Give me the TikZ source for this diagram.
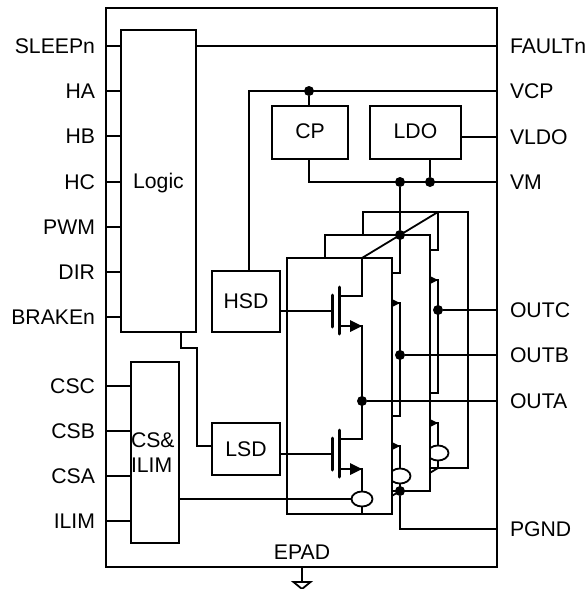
\documentclass[tikz,border=0pt]{standalone}
\usepackage{fontspec}
\setmainfont{Liberation Sans}
\usepackage{tikz}
\usetikzlibrary{shapes.geometric,calc}

% One half bridge on its own card, #1 = name, #2/#3 = offset
\newcommand{\halfbridge}[3]{%
  \begin{scope}[shift={(#2,#3)}]
    \node[panel] (panel#1) at (339.5,386) {};
    \draw[wire] (362,258) -- (362,296) -- (339,296);
    \draw[wire] (339,326) -- (362,326) -- (362,439) -- (339,439);
    \draw[wire] (339,469) -- (362,469) -- (362,514);
    \foreach \yy in {0,143} {
      \draw[gatebar] (332,295+\yy) -- (332,327+\yy);
      \draw[gatebar] (339,287+\yy) -- (339,334+\yy);
      \fill (350,320+\yy) -- (362,326+\yy) -- (350,332+\yy) -- cycle;
    }
    \node[sense] (sense#1) at (362,499) {};
    \coordinate (gatehi#1) at (332,311);
    \coordinate (gatelo#1) at (332,454);
    \coordinate (head#1) at (362,258);
    \coordinate (foot#1) at (362,514);
  \end{scope}}

\begin{document}
\begin{tikzpicture}[
  x=1pt,y=-1pt,
  wire/.style={line width=1.8pt},
  gatebar/.style={line width=3pt,line cap=round},
  box/.style={rectangle,draw,line width=1.8pt,fill=white,inner sep=0pt,outer sep=0pt,align=center,font=\fontsize{21.2}{25}\selectfont},
  pinlabel/.style={inner sep=0pt,outer sep=0pt,font=\fontsize{21.2}{25}\selectfont},
  panel/.style={rectangle,draw,line width=1.8pt,fill=white,inner sep=0pt,outer sep=0pt,minimum width=105pt,minimum height=256pt},
  sense/.style={ellipse,draw,line width=1.8pt,fill=white,inner sep=0pt,outer sep=0pt,minimum width=21pt,minimum height=15pt},
  dot/.style={circle,fill=black,inner sep=0pt,outer sep=0pt,minimum size=10pt}
]
  \useasboundingbox (0,0) rectangle (588,589);

  % Package outline
  \node[box,minimum width=391pt,minimum height=559pt] (chip) at (301.5,287.5) {};

  % Pin labels on both sides
  \foreach \n/\y in {SLEEPn/46,HA/91,HB/136,HC/182,PWM/227,DIR/272,BRAKEn/317,CSC/386,CSB/431,CSA/476,ILIM/521}
    \node[pinlabel,anchor=east] (\n) at (95,\y) {\n};
  \foreach \n/\y in {FAULTn/46,VCP/91,VLDO/137,VM/182,OUTC/310,OUTB/355,OUTA/401,PGND/529}
    \node[pinlabel,anchor=west] (\n) at (510,\y) {\n};

  % Function blocks
  \node[box,text depth=0pt,minimum width=75pt,minimum height=302pt] (logic) at (158.5,181) {Logic};
  \node[box,text width=48pt,align=left,minimum height=181pt] (csilim) at (155,452.5) {CS\&\\ILIM};
  \node[box,minimum width=68pt,minimum height=61pt] (hsd) at (246,301.5) {HSD};
  \node[box,minimum width=68pt,minimum height=52pt] (lsd) at (246,449) {LSD};
  \node[box,text depth=3pt,minimum width=76pt,minimum height=53pt] (cp) at (310,132.5) {CP};
  \node[box,text depth=3pt,minimum width=91pt,minimum height=53pt] (ldo) at (415.5,132.5) {LDO};

  % Input stubs
  \foreach \n in {SLEEPn,HA,HB,HC,PWM,DIR,BRAKEn}
    \draw[wire] (chip.west |- \n) -- (logic.west |- \n);
  \foreach \n in {CSC,CSB,CSA,ILIM}
    \draw[wire] (chip.west |- \n) -- (csilim.west |- \n);

  % Three half bridges, back to front
  \coordinate (footb) at (400,491);
  \coordinate (foota) at (362,514);
  \halfbridge{c}{76}{-46}
  \draw[wire] (footc) -- (footb);
  \halfbridge{b}{38}{-23}
  \draw[wire] (footb) -- (foota);
  \halfbridge{a}{0}{0}
  \draw[wire] (heada) -- (headc);

  % Supply nets
  \node[dot] (vcpdot) at (309,91) {};
  \node[dot] (vmdot) at (400,182) {};
  \node[dot] (ldodot) at (430,182) {};
  \node[dot] (topdot) at (headb) {};
  \node[dot] (gnddot) at (footb) {};
  \draw[wire] (hsd.north -| 249,0) |- (chip.east |- VCP);
  \draw[wire] (vcpdot) -- (vcpdot |- cp.north);
  \draw[wire] (cp.south -| vcpdot) |- (chip.east |- VM);
  \draw[wire] (ldodot |- ldo.south) -- (ldodot);
  \draw[wire] (vmdot) -- (topdot);
  \draw[wire] (ldo.east |- VLDO) -- (chip.east |- VLDO);
  \draw[wire] (logic.east |- FAULTn) -- (chip.east |- FAULTn);
  \draw[wire] (gnddot) |- (chip.east |- PGND);

  % Outputs
  \node[dot] (outa) at (362,401) {};
  \node[dot] (outb) at (400,355) {};
  \node[dot] (outc) at (438,310) {};
  \draw[wire] (outa) -- (chip.east |- OUTA);
  \draw[wire] (outb) -- (chip.east |- OUTB);
  \draw[wire] (outc) -- (chip.east |- OUTC);

  % Drive and sense wires
  \draw[wire] (hsd.east |- gatehia) -- (gatehia);
  \draw[wire] (lsd.east |- gateloa) -- (gateloa);
  \draw[wire] (181,332) -- (181,348) -- (197,348) -- (197,446) -- (lsd.west |- 0,446);
  \draw[wire] (csilim.east |- sensea) -- (sensea.west);

  % EPAD and ground symbol
  \node[pinlabel] (epad) at (302,552) {EPAD};
  \coordinate (gnd) at (302,582);
  \draw[wire] (chip.south -| gnd) -- (gnd);
  \draw[wire] (293.5,582) -- (310.5,582) -- (302,589) -- cycle;
\end{tikzpicture}
\end{document}
